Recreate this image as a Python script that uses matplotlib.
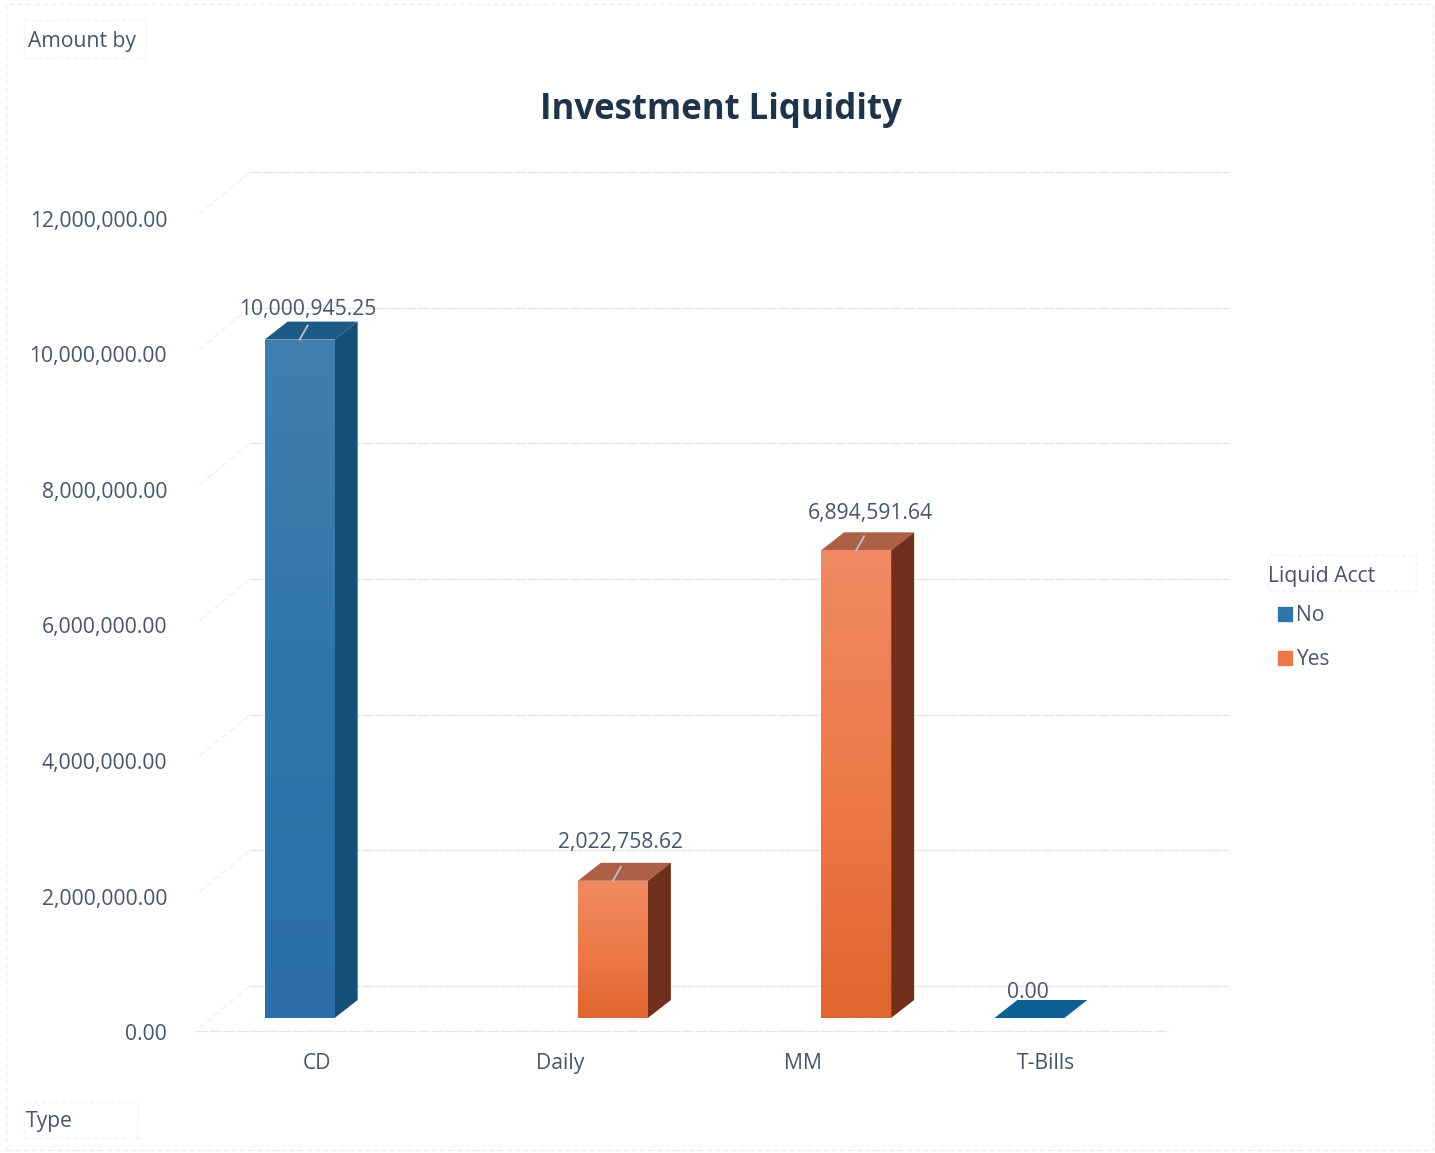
import numpy as np
import matplotlib
matplotlib.use('Agg')
import matplotlib.pyplot as plt
from matplotlib.colors import LinearSegmentedColormap
from matplotlib.lines import Line2D
from matplotlib.patches import Rectangle
from matplotlib.transforms import ScaledTranslation

categories = ['CD', 'Daily', 'MM', 'T-Bills']
series_no = [10000945.25, 0, 0, 0.0]
series_yes = [0, 2022758.62, 6894591.64, 0]
series_names = ['No', 'Yes']
y_ticks = [0, 2000000, 4000000, 6000000, 8000000, 10000000, 12000000]

W, H = 1435, 1153
TEXT = '#45566a'
FS = 15.2
plt.rcParams['font.family'] = ['Open Sans', 'DejaVu Sans']

fig = plt.figure(figsize=(W / 100, H / 100), dpi=100)
ax = fig.add_axes([195 / W, 1 - 1031 / H, 973 / W, 814 / H])
ax.set_xlim(-0.5, 3.5)
ax.set_ylim(0, 12000000)

px_x = 4 / 973
px_y = 12000000 / 814


def fx(x):
    return x / W


def fy(y):
    return 1 - y / H


# back wall, side wall and floor
for v in y_ticks:
    back = v + 45 * px_y
    ax.plot([-0.5 + 55 * px_x, -0.5 + 1033 * px_x], [back, back], color='#dce6ed', lw=1,
            ls=(0, (9, 1)), clip_on=False, zorder=1)
    ax.plot([-0.5 + 4 * px_x, -0.5 + 55 * px_x], [v + 3 * px_y, back], color='#eef1f3', lw=1,
            ls=(0, (5, 2)), clip_on=False, zorder=1)
ax.plot([-0.5, 3.5], [0, 0], color='#dce6ed', lw=1, ls=(0, (9, 1)), clip_on=False, zorder=1)

blue_cm = LinearSegmentedColormap.from_list('b', ['#427fae', '#2f76ab', '#2b6fa6'])
orange_cm = LinearSegmentedColormap.from_list('o', ['#f08a62', '#ec7a48', '#e0652f'])
styles = {
    'No': dict(cm=blue_cm, top='#1d5a86', side='#154f78', flat='#0f5f92', off=-0.5),
    'Yes': dict(cm=orange_cm, top='#ad5f48', side='#70301c', flat='#c05a30', off=0.5),
}

bar_w = 70 * px_x
front_dx = 18 * px_x
front_dy = 13 * px_y
depth_dx = 23 * px_x
depth_dy = 18 * px_y
grad = np.linspace(0, 1, 256).reshape(-1, 1)

# label offsets from the middle of the bar front, in pixels
label_offsets = {'CD': (8, 30), 'Daily': (8, 38), 'MM': (14, 37), 'T-Bills': (-1, 26)}

for name, values in zip(series_names, [series_no, series_yes]):
    st = styles[name]
    for i, v in enumerate(values):
        if name == 'No' and categories[i] not in ('CD', 'T-Bills'):
            continue
        if name == 'Yes' and categories[i] not in ('Daily', 'MM'):
            continue
        left = i + st['off'] * bar_w - bar_w / 2 + front_dx
        right = left + bar_w
        low = front_dy
        high = front_dy + v
        ax.fill([left, right, right + depth_dx, left + depth_dx],
                [high, high, high + depth_dy, high + depth_dy],
                color=styles['No']['flat'] if v == 0 else st['top'], lw=0, clip_on=False, zorder=3)
        if v > 0:
            ax.fill([right, right + depth_dx, right + depth_dx, right],
                    [low, low + depth_dy, high + depth_dy, high],
                    color=st['side'], lw=0, clip_on=False, zorder=3)
            bars = ax.bar(left, v, width=bar_w, bottom=low, align='edge', color=st['cm'](0.5),
                          lw=0, zorder=4)
            im = ax.imshow(grad, extent=[left, right, low, high], aspect='auto', cmap=st['cm'],
                           zorder=5)
            im.set_clip_path(bars[0])
        ox, oy = label_offsets[categories[i]]
        mid = (left + right) / 2
        if v > 0:
            ax.plot([mid, mid + 8 * px_x], [high, high + 14 * px_y], color='#b9c6cf', lw=1.3,
                    zorder=6, clip_on=False)
        ax.annotate(f'{v:,.2f}', (mid, high), xytext=(ox * 0.72, oy * 0.72), textcoords='offset points',
                    ha='center', va='center', fontsize=FS, color=TEXT, zorder=7)

ax.set_xlim(-0.5, 3.5)
ax.set_ylim(0, 12000000)
ax.set_xticks(range(len(categories)), categories, fontsize=FS, color=TEXT)
ax.set_yticks(y_ticks, [f'{v:,.2f}' for v in y_ticks], fontsize=FS, color=TEXT)
ax.tick_params(length=0)
ax.tick_params(axis='x', pad=16)
ax.tick_params(axis='y', pad=20)
shift = ScaledTranslation(0, -1.5 / 100, fig.dpi_scale_trans)
for lab in ax.get_yticklabels():
    lab.set_transform(lab.get_transform() + shift)
for s in ax.spines.values():
    s.set_visible(False)
ax.patch.set_alpha(0)

fig.text(fx(721), fy(110), 'Investment Liquidity', ha='center', va='center', fontsize=25,
         fontweight='bold', color='#1f3448')
fig.text(fx(28), fy(41), 'Amount by', ha='left', va='center', fontsize=FS, color=TEXT)
fig.text(fx(26), fy(1122), 'Type', ha='left', va='center', fontsize=FS, color=TEXT)

# legend
handles = [Line2D([], [], marker='s', ls='none', ms=9.5, color=styles[n]['cm'](0.5)) for n in series_names]
leg = fig.legend(handles, series_names, title='Liquid Acct', loc='upper left',
                 bbox_to_anchor=(fx(1268), fy(566)), frameon=False, fontsize=FS,
                 title_fontproperties={'size': FS}, alignment='left', labelspacing=1.1,
                 handletextpad=-0.25, borderpad=0, borderaxespad=0, handlelength=1.6)
leg._legend_box.sep = 13
leg.get_title().set_color(TEXT)
for t in leg.get_texts():
    t.set_color(TEXT)

# faint scan outlines of the chart and the field buttons
fig.add_artist(Rectangle((fx(6), fy(1150)), 1427 / W, 1146 / H, fill=False, ec='#eeeeee', lw=1,
                         ls=(0, (4, 2)), transform=fig.transFigure))
for x0, y0, x1, y1 in [(1268, 555, 1416, 591), (24, 20, 146, 58), (24, 1102, 138, 1138)]:
    fig.add_artist(Rectangle((fx(x0), fy(y1)), (x1 - x0) / W, (y1 - y0) / H, fill=False, ec='#f3f3f3',
                             lw=1, ls=(0, (3, 2)), transform=fig.transFigure))

fig.savefig('out.png', dpi=100)
